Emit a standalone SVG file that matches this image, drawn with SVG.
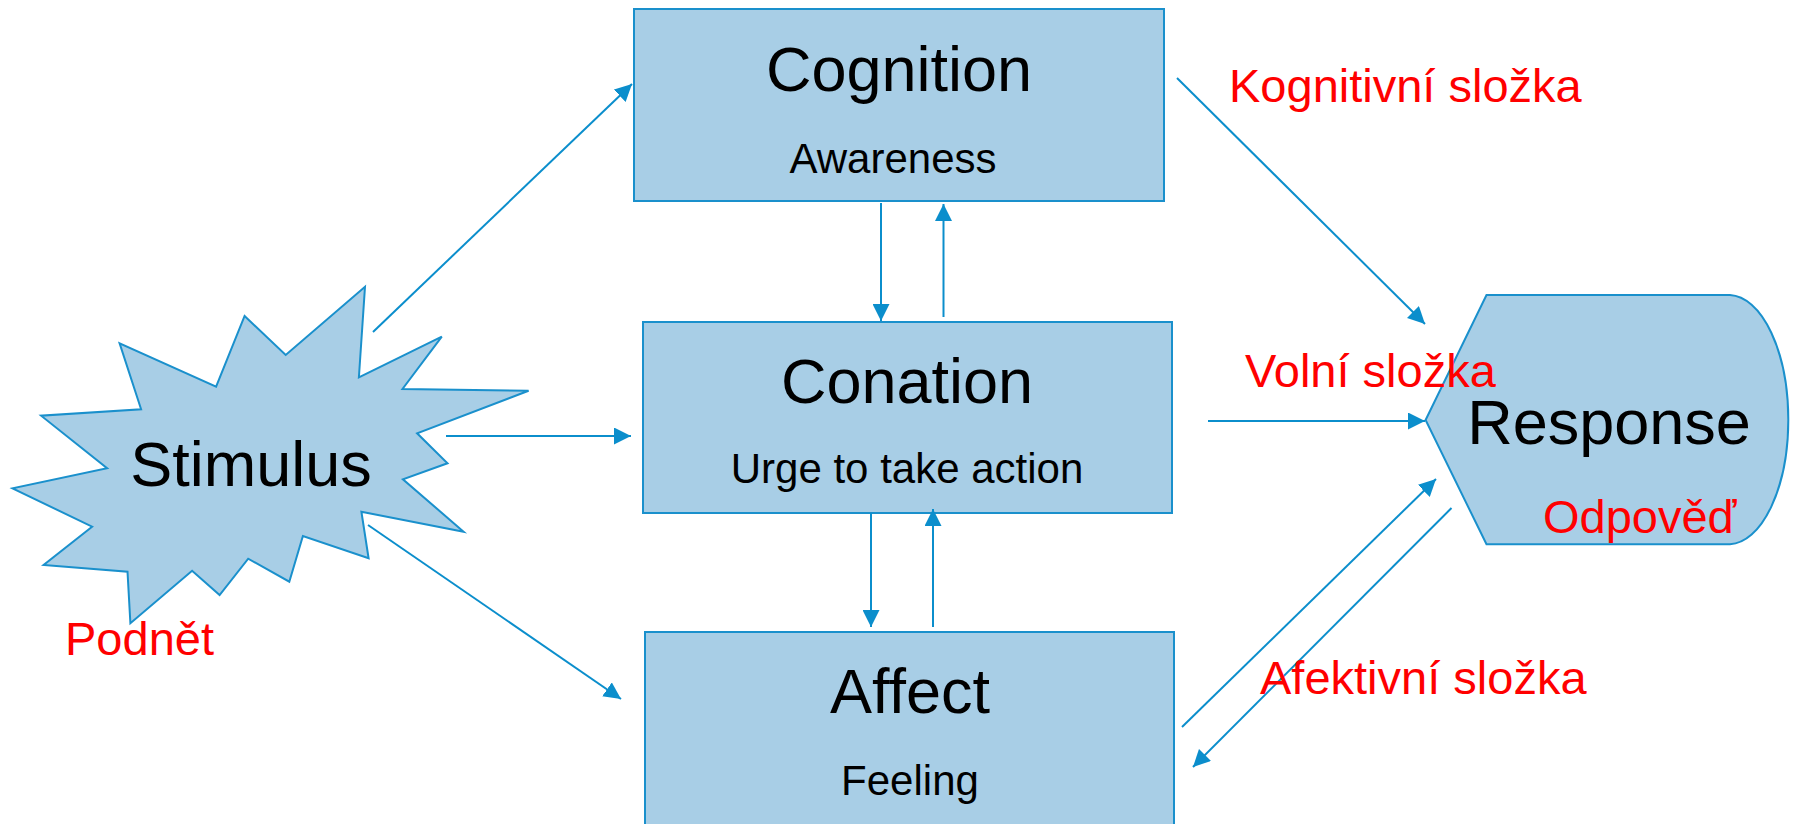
<svg xmlns="http://www.w3.org/2000/svg" width="1795" height="824" viewBox="0 0 1795 824">
<style>
.node{fill:#A8CEE6;stroke:#1A90CC;stroke-width:2}
.t{font-family:"Liberation Sans",Arial,sans-serif;fill:#000;text-anchor:middle}
.big{font-size:63px}
.sub{font-size:42px}
.red{font-family:"Liberation Sans",Arial,sans-serif;fill:#FF0000;font-size:47px}
.c{stroke:#0B8ECC;stroke-width:2;fill:none;marker-end:url(#ah)}
</style>
<defs>
<marker id="ah" markerUnits="userSpaceOnUse" markerWidth="17" markerHeight="17" refX="15" refY="7.5" orient="auto" viewBox="0 0 15 15">
<path d="M0,0 L15,7.5 L0,15 z" fill="#0B8ECC"/>
</marker>
</defs>
<rect width="1795" height="824" fill="#fff"/>
<g id="stimulus">
<polygon class="node" points="365,286.7 358.9,377.3 441.8,336.7 402.5,389 528.6,390.7 417.1,433.3 447.5,463.3 402.9,479.3 463.6,531.7 361.4,511.7 368.6,558.3 302.9,536 289.3,581.7 248.2,558.7 219.6,595 192.1,570.7 130.4,623.3 127.5,571.7 43.6,565 92.1,526.7 12.5,488.3 107.1,468.3 41.1,415.7 141.1,409.3 119.6,343.3 216.1,386.7 244.6,316 285.7,355"/>
<text class="t big" x="251" y="486">Stimulus</text>
</g>
<g id="cognition">
<rect class="node" x="634" y="9" width="530" height="192"/>
<text class="t big" x="899" y="91">Cognition</text>
<text class="t sub" x="893" y="173">Awareness</text>
</g>
<g id="conation">
<rect class="node" x="643" y="322" width="529" height="191"/>
<text class="t big" x="907" y="403">Conation</text>
<text class="t sub" x="907" y="483">Urge to take action</text>
</g>
<g id="affect">
<rect class="node" x="645" y="632" width="529" height="200"/>
<text class="t big" x="910" y="713">Affect</text>
<text class="t sub" x="910" y="795">Feeling</text>
</g>
<g id="response">
<path class="node" d="M1425.6,420 L1486.5,295 L1730,295 A60 124.7 0 0 1 1730,544.3 L1486.5,544.3 Z"/>
<text class="t big" x="1609" y="444">Response</text>
</g>
<g id="connectors">
<line class="c" x1="373" y1="332" x2="632" y2="84"/>
<line class="c" x1="446" y1="436" x2="631" y2="436"/>
<line class="c" x1="368" y1="525" x2="621" y2="699"/>
<line class="c" x1="881" y1="203" x2="881" y2="321"/>
<line class="c" x1="943.5" y1="317" x2="943.5" y2="204"/>
<line class="c" x1="871" y1="513" x2="871" y2="627"/>
<line class="c" x1="933" y1="627" x2="933" y2="509"/>
<line class="c" x1="1177" y1="78" x2="1425" y2="324"/>
<line class="c" x1="1208" y1="421" x2="1425" y2="421"/>
<line class="c" x1="1182" y1="727" x2="1436" y2="479"/>
<line class="c" x1="1451.5" y1="508" x2="1193" y2="767"/>
</g>
<g id="labels">
<text class="red" x="65" y="655">Podnět</text>
<text class="red" x="1229" y="102">Kognitivní složka</text>
<text class="red" x="1245" y="387">Volní složka</text>
<text class="red" x="1543" y="533">Odpověď</text>
<text class="red" x="1260" y="694">Afektivní složka</text>
</g>
</svg>
